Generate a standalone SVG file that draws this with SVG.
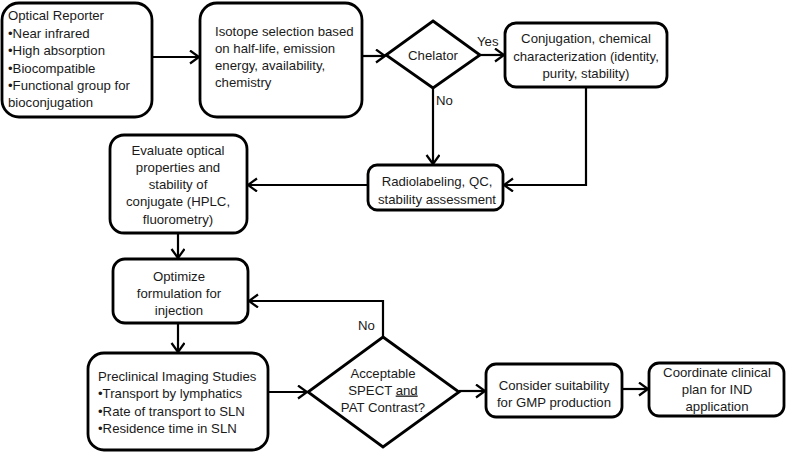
<svg xmlns="http://www.w3.org/2000/svg" width="786" height="453" viewBox="0 0 786 453">
<style>
.box{fill:#fff;stroke:#000;stroke-width:2.8}
.t{font-family:"Liberation Sans",Arial,sans-serif;font-size:13.2px;fill:#1a1a1a}
.c{text-anchor:middle}
.conn{fill:none;stroke:#000;stroke-width:2.2}
</style>
<defs>
<marker id="ah" markerUnits="userSpaceOnUse" markerWidth="14" markerHeight="16" refX="10" refY="7" orient="auto">
<path d="M1,0.5 L10,7 L1,13.5" fill="none" stroke="#000" stroke-width="2.2"/>
</marker>
</defs>
<rect width="786" height="453" fill="#fff"/>
<g id="connectors">
<path class="conn" d="M152,57 H199" marker-end="url(#ah)"/>
<path class="conn" d="M362,56 H385" marker-end="url(#ah)"/>
<path class="conn" d="M480,55 H504" marker-end="url(#ah)"/>
<path class="conn" d="M433,88 V164" marker-end="url(#ah)"/>
<path class="conn" d="M586,87 V185 H504" marker-end="url(#ah)"/>
<path class="conn" d="M368,185 H248" marker-end="url(#ah)"/>
<path class="conn" d="M178,233 V258" marker-end="url(#ah)"/>
<path class="conn" d="M178,323 V352" marker-end="url(#ah)"/>
<path class="conn" d="M268,392 H307" marker-end="url(#ah)"/>
<path class="conn" d="M383,337 V301 H249" marker-end="url(#ah)"/>
<path class="conn" d="M459,391 H485" marker-end="url(#ah)"/>
<path class="conn" d="M622,389 H648" marker-end="url(#ah)"/>
<text class="t" x="477" y="46">Yes</text>
<text class="t" x="436" y="105">No</text>
<text class="t" x="358" y="330">No</text>
</g>
<g id="optical-reporter">
<rect class="box" x="2" y="3" width="150" height="114" rx="17"/>
<text class="t" x="8" y="20">Optical Reporter</text>
<text class="t" x="8" y="37.5">•Near infrared</text>
<text class="t" x="8" y="55">•High absorption</text>
<text class="t" x="8" y="72.5">•Biocompatible</text>
<text class="t" x="8" y="90">•Functional group for</text>
<text class="t" x="8" y="107">bioconjugation</text>
</g>
<g id="isotope-selection">
<rect class="box" x="200" y="3" width="162" height="114" rx="17"/>
<text class="t" x="215" y="36">Isotope selection based</text>
<text class="t" x="215" y="53">on half-life, emission</text>
<text class="t" x="215" y="70">energy, availability,</text>
<text class="t" x="215" y="87">chemistry</text>
</g>
<g id="chelator">
<polygon class="box" points="433,21 480,55 433,88 386,55"/>
<text class="t c" x="433" y="59.5">Chelator</text>
</g>
<g id="conjugation">
<rect class="box" x="505" y="23" width="162" height="64" rx="11"/>
<text class="t c" x="586" y="43">Conjugation, chemical</text>
<text class="t c" x="586" y="60.5">characterization (identity,</text>
<text class="t c" x="586" y="78">purity, stability)</text>
</g>
<g id="radiolabeling">
<rect class="box" x="368" y="165" width="135" height="45" rx="9"/>
<text class="t c" x="437" y="185.5">Radiolabeling, QC,</text>
<text class="t c" x="437" y="203.5">stability assessment</text>
</g>
<g id="evaluate">
<rect class="box" x="110" y="135" width="137" height="98" rx="14"/>
<text class="t c" x="178" y="154.5">Evaluate optical</text>
<text class="t c" x="178" y="171.5">properties and</text>
<text class="t c" x="178" y="188.5">stability of</text>
<text class="t c" x="178" y="206">conjugate (HPLC,</text>
<text class="t c" x="178" y="223.5">fluorometry)</text>
</g>
<g id="optimize">
<rect class="box" x="113" y="259" width="135" height="64" rx="12"/>
<text class="t c" x="179" y="281">Optimize</text>
<text class="t c" x="179" y="298">formulation for</text>
<text class="t c" x="179" y="315">injection</text>
</g>
<g id="preclinical">
<rect class="box" x="88" y="353" width="180" height="97" rx="16"/>
<text class="t" x="98" y="381">Preclinical Imaging Studies</text>
<text class="t" x="98" y="398">•Transport by lymphatics</text>
<text class="t" x="98" y="415.5">•Rate of transport to SLN</text>
<text class="t" x="98" y="433">•Residence time in SLN</text>
</g>
<g id="acceptable">
<polygon class="box" points="383,337 459,392 383,447 308,392"/>
<text class="t c" x="383" y="377.5">Acceptable</text>
<text class="t c" x="383" y="394.5">SPECT <tspan text-decoration="underline">and</tspan></text>
<text class="t c" x="383" y="411.5">PAT Contrast?</text>
</g>
<g id="gmp">
<rect class="box" x="486" y="364" width="136" height="53" rx="10"/>
<text class="t c" x="554" y="389.5">Consider suitability</text>
<text class="t c" x="554" y="406.5">for GMP production</text>
</g>
<g id="coordinate">
<rect class="box" x="649" y="363" width="135" height="53" rx="10"/>
<text class="t c" x="717" y="376.5">Coordinate clinical</text>
<text class="t c" x="717" y="393.5">plan for IND</text>
<text class="t c" x="717" y="411">application</text>
</g>
</svg>
